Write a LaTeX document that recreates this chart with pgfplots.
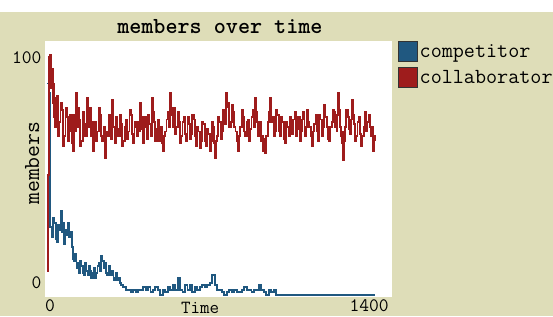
\documentclass[border=0pt]{standalone}
\usepackage{fontspec}
\usepackage{pgfplots}
\pgfplotsset{compat=1.18}
\definecolor{bgbeige}{RGB}{222,221,184}
\definecolor{comp}{RGB}{32,88,128}
\definecolor{coll}{RGB}{158,28,28}
\newcommand{\fs}[1]{\fontsize{#1}{#1}\selectfont}
\begin{document}
\begin{tikzpicture}[x=1bp,y=1bp]
\fill[white] (0,0) rectangle (553,316);
\fill[bgbeige] (0,0) rectangle (553,304);
\useasboundingbox (0,0) rectangle (553,316);
\begin{axis}[
  at={(45bp,19bp)}, anchor=south west,
  scale only axis, width=347bp, height=256bp,
  xmin=-8, xmax=1400, ymin=-1, ymax=105.7,
  axis background/.style={fill=white},
  axis line style={draw=none},
  major tick length=0pt,
  xtick={12,1307}, xticklabels={0,1400},
  ytick={4.8,98.6}, yticklabels={0,100},
  ticklabel style={font=\ttfamily\fs{19bp}},
  xticklabel style={yshift=1bp},
  title={members over time},
  xlabel={Time}, ylabel={members},
  every axis title/.style={at={(axis description cs:0.504,1.057)}, anchor=center, font=\ttfamily\bfseries\fs{23bp}},
  every axis x label/.style={at={(axis description cs:0.447,-0.042)}, anchor=center, font=\ttfamily\fs{18.5bp}},
  every axis y label/.style={at={(axis description cs:-0.037,0.523)}, rotate=90, anchor=center, font=\ttfamily\fs{23bp}},
  legend style={at={(axis description cs:1.017,1)}, anchor=north west, draw=none, fill=none,
    inner sep=0pt, outer sep=0pt, row sep=5bp, font=\ttfamily\fs{21.5bp}},
  legend cell align=left,
  const plot,
  every axis plot/.append style={line width=1.9bp},
]
\addplot[color=comp, legend image code/.code={\draw[draw=black!80, fill=comp, line width=0.8bp] (0bp,-10bp) rectangle (19bp,10bp);}]
coordinates {
(0,88) (10,84) (12,28) (20,24) (25,32) (30,30) (35,23) (40,22) (45,29) (50,27) (55,35) (60,26) (65,30) (70,21)
(75,27) (80,25) (85,30) (90,24) (95,26) (100,20) (105,15) (110,14) (115,17) (120,11) (125,13) (130,9) (135,14) (140,12) (145,9) (150,8)
(155,13) (160,10) (165,8) (170,12) (175,10) (180,7) (185,9) (190,11) (195,7) (200,9) (205,12) (210,13) (215,10) (220,16) (225,14) (230,11) (235,13) (240,9) (245,8) (250,12)
(255,10) (260,8) (265,10) (270,6) (275,7) (280,9) (285,6) (290,7) (295,5) (300,4) (310,3) (320,2) (330,2) (340,1) (350,2)
(360,1) (370,2) (380,2) (390,3) (400,2) (410,3) (420,1) (430,2) (440,3) (450,2)
(460,0) (470,2) (480,1) (490,3) (500,2) (510,4) (520,2) (530,7) (540,2) (550,1)
(560,4) (570,2) (580,4) (590,1) (600,3) (610,2) (620,3) (630,4) (640,3) (650,4)
(660,5) (670,8) (680,4) (690,2) (700,2) (710,1) (720,0) (730,1) (740,2) (750,1)
(760,2) (770,1) (780,1) (790,2) (800,3) (810,2) (820,2) (830,1) (840,2) (850,2)
(860,4) (870,2) (880,1) (890,0) (900,2) (910,1) (920,2) (930,0) (1330,0)
};
\addlegendentry{competitor}
\addplot[color=coll, legend image code/.code={\draw[draw=black!80, fill=coll, line width=0.8bp] (0bp,-10bp) rectangle (19bp,10bp);}]
coordinates {
(0,10) (4,50) (8,90) (10,99) (12,96) (14,100) (16,92) (18,86) (20,94) (23,80) (25,88) (28,74) (30,82) (33,70) (36,79) (40,83)
(45,66) (50,72) (55,80) (60,77) (65,62) (70,66) (75,78) (80,74) (85,64) (90,68) (95,75) (100,63) (105,60) (110,75) (114,68) (118,84)
(122,72) (125,70) (128,78) (130,73) (135,62) (140,64) (145,76) (150,71) (156,66) (162,82) (166,74) (170,70) (175,78) (180,66) (184,72) (187,60)
(191,67) (195,72) (200,64) (205,68) (210,78) (215,75) (220,66) (225,64) (230,70) (235,57) (240,68) (245,66) (250,75) (255,72) (260,65) (264,81)
(267,73) (270,70) (275,63) (280,74) (285,69) (290,66) (295,75) (300,71) (305,62) (310,64) (315,70) (320,73) (325,65) (330,68) (335,77) (340,75)
(345,67) (350,63) (355,72) (360,70) (365,66) (370,72) (374,68) (377,80) (381,74) (385,69) (390,63) (395,74) (400,70) (405,65) (410,75) (415,71)
(420,66) (426,82) (430,76) (435,72) (440,64) (445,69) (450,73) (455,64) (459,67) (463,70) (467,63) (471,60) (475,66) (480,68) (485,73) (490,76)
(495,70) (499,84) (503,78) (508,75) (512,70) (515,78) (520,67) (525,70) (530,76) (535,72) (540,63) (545,66) (550,72) (555,74) (560,67) (565,64)
(570,74) (575,71) (580,65) (585,67) (590,75) (595,73) (600,66) (605,62) (610,70) (615,68) (620,61) (625,64) (630,72) (635,71) (640,64) (645,62)
(650,69) (655,67) (660,60) (665,64) (670,72) (675,70) (679,63) (682,57) (686,64) (690,66) (695,74) (700,72) (705,65) (710,68) (715,77) (720,76)
(724,71) (728,84) (731,78) (735,80) (740,70) (745,72) (750,79) (755,76) (760,70) (765,68) (770,64) (775,60) (780,66) (785,70) (790,77) (795,74)
(800,68) (805,66) (810,72) (815,73) (820,64) (825,69) (830,74) (835,77) (840,70) (844,82) (848,76) (852,72) (856,66) (860,68) (865,72) (870,64)
(874,66) (877,60) (881,65) (885,59) (890,66) (895,72) (900,76) (905,82) (910,72) (915,74) (920,66) (925,68) (930,77) (935,75) (940,68) (945,66)
(950,74) (955,72) (960,65) (965,63) (970,72) (975,70) (980,66) (985,74) (990,70) (995,67) (1000,73) (1005,76) (1010,66) (1015,69) (1020,74) (1025,64)
(1030,68) (1035,73) (1040,76) (1045,66) (1050,70) (1055,77) (1060,72) (1065,70) (1070,66) (1075,62) (1080,68) (1085,71) (1090,75) (1095,68) (1100,64) (1105,75)
(1110,73) (1115,66) (1120,70) (1125,79) (1130,74) (1135,70) (1140,65) (1145,64) (1150,70) (1155,72) (1160,77) (1165,76) (1170,70) (1175,68) (1178,75) (1181,84)
(1184,77) (1188,70) (1192,66) (1195,63) (1198,68) (1201,56) (1205,64) (1210,70) (1215,77) (1220,74) (1225,69) (1230,67) (1234,73) (1238,81) (1242,75) (1246,71)
(1250,64) (1255,66) (1260,72) (1265,74) (1270,67) (1275,62) (1280,66) (1285,70) (1290,76) (1295,68) (1300,72) (1305,75) (1310,70) (1315,66) (1319,70) (1323,60)
(1327,66) (1330,64)
};
\addlegendentry{collaborator}
\end{axis}
\end{tikzpicture}
\end{document}
